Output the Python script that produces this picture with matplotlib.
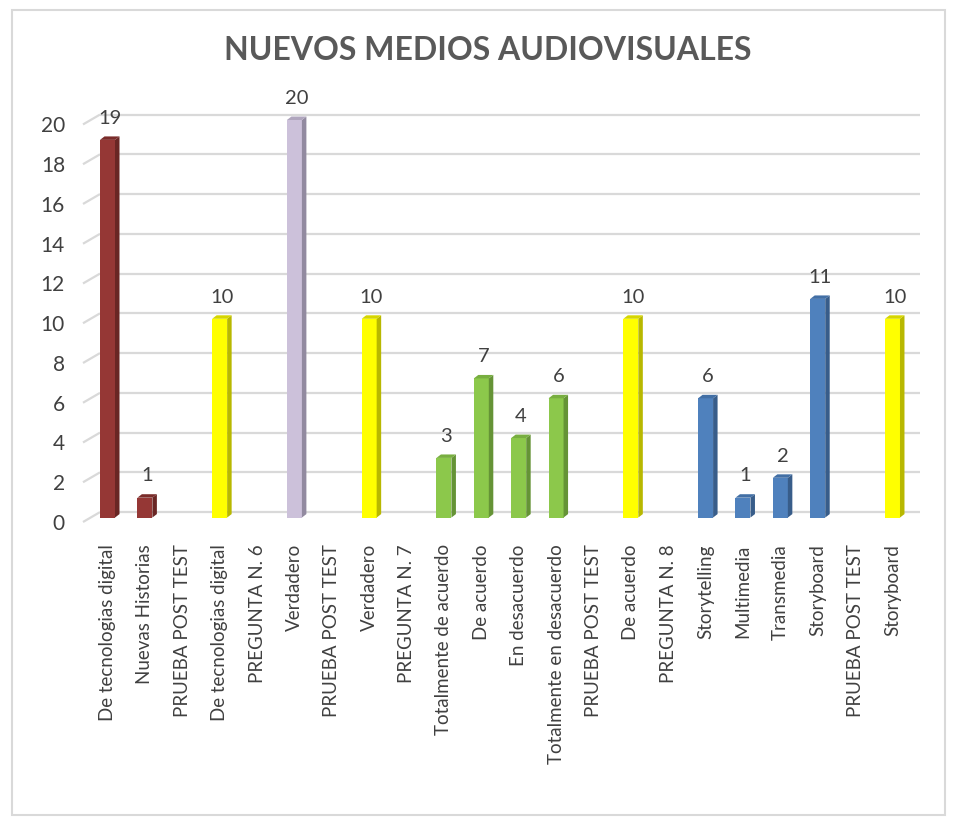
import matplotlib
matplotlib.use("Agg")
import matplotlib.pyplot as plt
from matplotlib.patches import Polygon, Rectangle

plt.rcParams['font.family'] = ['Lato', 'DejaVu Sans']

categories = ["De tecnologias digital", "Nuevas Historias", "PRUEBA POST TEST",
              "De tecnologias digital", "PREGUNTA N. 6", "Verdadero", "PRUEBA POST TEST",
              "Verdadero", "PREGUNTA N. 7", "Totalmente de acuerdo", "De acuerdo",
              "En desacuerdo", "Totalmente en desacuerdo", "PRUEBA POST TEST", "De acuerdo",
              "PREGUNTA N. 8", "Storytelling", "Multimedia", "Transmedia", "Storyboard",
              "PRUEBA POST TEST", "Storyboard"]
values = [19, 1, None, 10, None, 20, None, 10, None, 3, 7, 4, 6, None, 10, None,
          6, 1, 2, 11, None, 10]
groups = ["red", "red", None, "yellow", None, "lavender", None, "yellow", None,
          "green", "green", "green", "green", None, "yellow", None,
          "blue", "blue", "blue", "blue", None, "yellow"]
yticks = list(range(0, 21, 2))

front = {"red": "#953735", "yellow": "#FFFF00", "lavender": "#CCC1DA",
         "green": "#8CC84B", "blue": "#4F81BD"}
side = {"red": "#692624", "yellow": "#B8B800", "lavender": "#928AA0",
        "green": "#659336", "blue": "#385D8A"}
top = {"red": "#7A2C2A", "yellow": "#D6D600", "lavender": "#B0A6BE",
       "green": "#78AE40", "blue": "#426FA5"}

W, H = 954, 821
fig = plt.figure(figsize=(W / 100, H / 100), dpi=100)

# chart border
fig.patches.append(Rectangle((12 / W, 6 / H), 933 / W, 805 / H, transform=fig.transFigure,
                             fill=False, edgecolor="#D9D9D9", linewidth=1.5))

ax_left, ax_right = 83, 920
ax_bottom_px, ax_top_px = 522, 120
ax = fig.add_axes([ax_left / W, 1 - ax_bottom_px / H, (ax_right - ax_left) / W,
                   (ax_bottom_px - ax_top_px) / H])
n = len(categories)
spacing = 37.38
x0 = -(107.5 - ax_left) / spacing
x1 = (ax_right - 107.5) / spacing
ax.set_xlim(x0, x1)
ax.set_ylim(0, 20)
for s in ax.spines.values():
    s.set_visible(False)

px_x = 1 / spacing
px_y = 20 / (ax_bottom_px - ax_top_px)
back_dx = 17 * px_x
front_dy = -4.5 * px_y
back_dy = 5.5 * px_y

# back-wall gridlines with perspective
for v in yticks:
    ax.plot([x0, x0 + back_dx], [v + front_dy, v + back_dy], color="#D9D9D9", lw=1.6,
            clip_on=False, zorder=1, solid_capstyle="butt")
    ax.plot([x0 + back_dx, x1], [v + back_dy, v + back_dy], color="#D9D9D9", lw=1.6,
            clip_on=False, zorder=1, solid_capstyle="butt")

bw = 15 * px_x
sdx = 4.5 * px_x
sdy = 3.5 * px_y
for i, (v, g) in enumerate(zip(values, groups)):
    if v is None:
        continue
    l = i - bw / 2
    r = i + bw / 2
    ax.bar(i, v, width=bw, color=front[g], zorder=3, linewidth=0)
    ax.add_patch(Polygon([(r, 0), (r + sdx, sdy), (r + sdx, v + sdy), (r, v)],
                         closed=True, facecolor=side[g], edgecolor="none", zorder=3,
                         clip_on=False))
    ax.add_patch(Polygon([(l, v), (l + sdx, v + sdy), (r + sdx, v + sdy), (r, v)],
                         closed=True, facecolor=top[g], edgecolor="none", zorder=3,
                         clip_on=False))
    ax.annotate(str(v), (i + sdx / 2, v), xytext=(0, 9.5), textcoords="offset points",
                ha="center", va="bottom", fontsize=14.5, color="#404040", zorder=4)

ax.set_xticks(range(n))
ax.set_xticklabels(categories, rotation=90, fontsize=13.5, color="#404040")
ax.tick_params(axis="x", length=0, pad=16)
ax.set_yticks([t + front_dy for t in yticks])
ax.set_yticklabels([str(t) for t in yticks], fontsize=15, color="#404040")
ax.tick_params(axis="y", length=0, pad=13)

fig.text(488 / W, 1 - 51 / H, "NUEVOS MEDIOS AUDIOVISUALES", ha="center", va="center",
         fontsize=23, fontweight="bold", color="#595959")

fig.savefig("out.png", dpi=100, facecolor="white")
